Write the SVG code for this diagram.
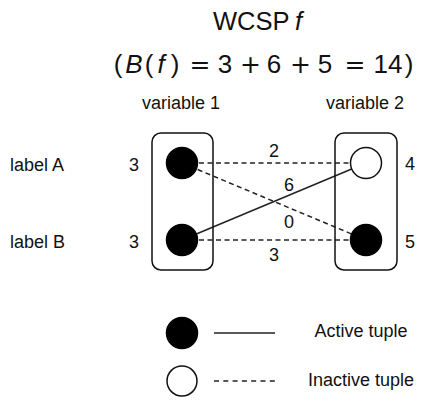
<svg xmlns="http://www.w3.org/2000/svg" width="422" height="409" viewBox="0 0 422 409">
  <style>
    text { font-family: "Liberation Sans", Arial, sans-serif; fill: #111; }
    .lbl { font-size: 18px; }
    .num { font-size: 18px; text-anchor: middle; }
    .title { font-size: 25.5px; }
    .math { font-size: 26px; text-anchor: middle; }
    .op { font-family: "DejaVu Sans", sans-serif; font-size: 25px; }
    .it { font-style: italic; }
    .box { fill: none; stroke: #111; stroke-width: 1.5; }
    .on { fill: #000; stroke: #000; stroke-width: 1.5; }
    .off { fill: #fff; stroke: #111; stroke-width: 1.5; }
    .active { stroke: #222; stroke-width: 1.5; fill: none; }
    .inactive { stroke: #222; stroke-width: 1.5; stroke-dasharray: 5 3.5; fill: none; }
  </style>

  <!-- heading -->
  <text class="title" x="213" y="30">WCSP<tspan class="it" x="295">f</tspan></text>
  <!-- each token centred on its own x -->
  <text class="math" y="73"><tspan x="118">(</tspan><tspan class="it" x="134">B</tspan><tspan x="149">(</tspan><tspan class="it" x="161">f</tspan><tspan x="175">)</tspan><tspan class="op" x="200">=</tspan><tspan x="225">3</tspan><tspan class="op" x="250.5">+</tspan><tspan x="274">6</tspan><tspan class="op" x="300.5">+</tspan><tspan x="325">5</tspan><tspan class="op" x="355">=</tspan><tspan x="388">14</tspan><tspan x="409">)</tspan></text>

  <!-- column headers and row labels -->
  <text class="lbl" x="181" y="109" text-anchor="middle">variable 1</text>
  <text class="lbl" x="365" y="109" text-anchor="middle">variable 2</text>
  <text class="lbl" x="10" y="171">label A</text>
  <text class="lbl" x="10" y="248">label B</text>

  <!-- connectors -->
  <g id="connectors">
    <line class="inactive" x1="182" y1="163" x2="366" y2="163"/>
    <line class="inactive" x1="182" y1="163" x2="366" y2="240"/>
    <line class="active" x1="182" y1="240" x2="366" y2="163"/>
    <line class="inactive" x1="182" y1="240" x2="366" y2="240"/>
    <text class="num" x="274" y="157">2</text>
    <text class="num" x="289" y="191">6</text>
    <text class="num" x="289" y="228">0</text>
    <text class="num" x="274" y="261">3</text>
  </g>

  <!-- variable 1 -->
  <g id="var1">
    <rect class="box" x="152" y="133" width="61" height="137" rx="9"/>
    <g id="var1-A">
      <circle class="on" cx="182" cy="163" r="15.5"/>
      <text class="num" x="134" y="171">3</text>
    </g>
    <g id="var1-B">
      <circle class="on" cx="182" cy="240" r="15.5"/>
      <text class="num" x="134" y="248">3</text>
    </g>
  </g>

  <!-- variable 2 -->
  <g id="var2">
    <rect class="box" x="335" y="133" width="62" height="137" rx="9"/>
    <g id="var2-A">
      <circle class="off" cx="366" cy="163" r="15.5"/>
      <text class="num" x="410" y="170">4</text>
    </g>
    <g id="var2-B">
      <circle class="on" cx="366" cy="240" r="15.5"/>
      <text class="num" x="410" y="248">5</text>
    </g>
  </g>

  <!-- legend -->
  <g id="legend">
    <circle class="on" cx="182" cy="333" r="15.5"/>
    <line class="active" x1="214" y1="333" x2="275" y2="333"/>
    <text class="lbl" x="361" y="337" text-anchor="middle">Active tuple</text>
    <circle class="off" cx="182" cy="381" r="15"/>
    <line class="inactive" x1="214" y1="381" x2="275" y2="381" style="stroke-dasharray: 5 4.3"/>
    <text class="lbl" x="361" y="386" text-anchor="middle">Inactive tuple</text>
  </g>
</svg>
